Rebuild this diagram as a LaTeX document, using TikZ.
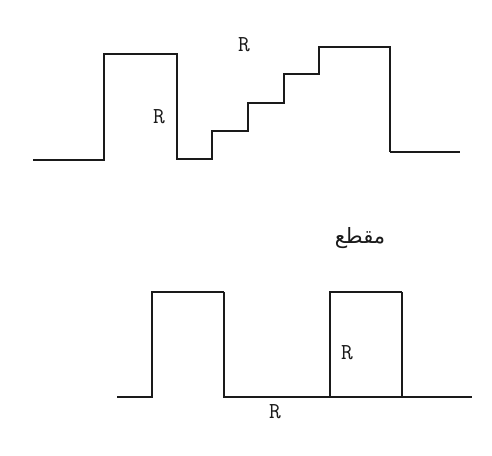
\documentclass[tikz,border=0pt]{standalone}
\usepackage{fontspec}
\newfontfamily\arabicfont[Script=Arabic]{DejaVu Sans}
\TeXXeTstate=1
\usepackage{tikz}
\definecolor{inkc}{HTML}{1A1A1A}
\tikzset{
  wave/.style={line width=1.5pt,inkc,line join=miter},
  thin wave/.style={line width=1pt,inkc},
  lbl/.style={font=\ttfamily\fontsize{13}{13}\selectfont,inner sep=1pt,inkc}
}
\begin{document}
\begin{tikzpicture}[x=0.02cm,y=-0.02cm]
\useasboundingbox (0,0) rectangle (492,455);
% upper profile
\draw[wave] (33,160)--(104,160)--(104,54)--(177,54)--(177,159)--(212,159)--(212,131)
  --(248,131)--(248,103)--(284,103)--(284,74)--(319,74)--(319,47)--(390,47)--(390,152);
\draw[thin wave] (390,152)--(460,152);
\node[lbl] (rtop) at (244,45) {R};
\node[lbl] (rstep) at (159,117) {R};
% section label
\node[font=\arabicfont\fontsize{12}{12}\selectfont,inner sep=1pt,inkc] (sec) at (360,238) {\beginR مقطع\endR};
% lower profile
\draw[wave] (117,397)--(152,397)--(152,292)--(224,292);
\draw[thin wave] (224,292)--(224,397)--(330,397);
\draw[wave] (330,397)--(330,292)--(402,292);
\draw[thin wave] (402,292)--(402,397)--(472,397);
\draw[thin wave] (330,397)--(402,397);
\node[lbl] (rbox) at (347,353) {R};
\node[lbl] (rgap) at (275,412) {R};
\end{tikzpicture}
\end{document}
